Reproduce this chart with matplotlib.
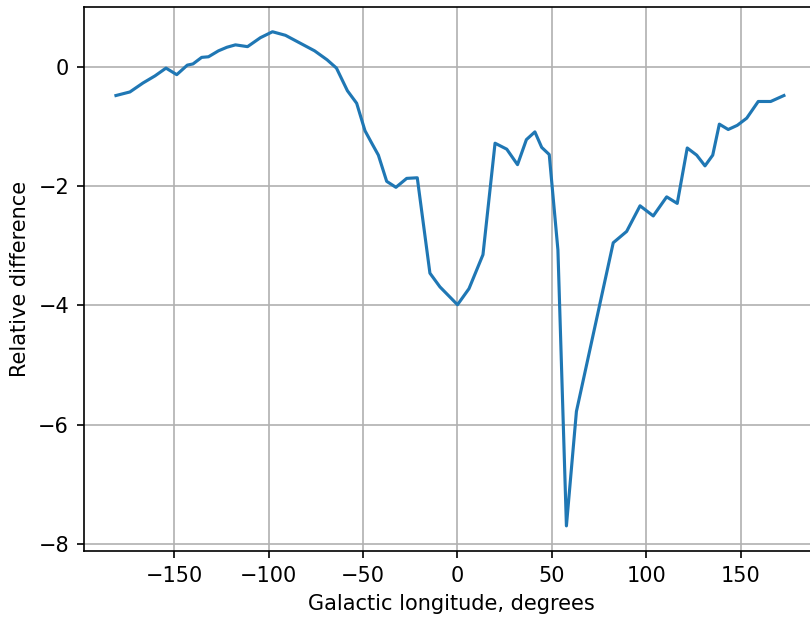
import matplotlib
matplotlib.use('Agg')
import matplotlib.pyplot as plt
import numpy as np

# galactic longitude (deg) of each sample
lon = [-180.9, -173.5, -166.6, -160.2, -154.4, -148.7, -143.1, -140.1, -135.5, -131.9,
       -126.6, -122.1, -117.6, -111.2, -104.4, -98.0, -91.1, -84.0, -75.7, -69.1,
       -64.1, -58.3, -53.4, -49.0, -45.4, -41.9, -37.5, -32.6, -26.9, -21.3,
       -14.6, -9.3, 0.0, 6.1, 13.5, 19.9, 26.1, 31.8, 36.5, 41.0,
       44.6, 48.6, 53.2, 57.7, 63.0, 82.5, 89.6, 96.7, 103.7, 110.8,
       116.4, 121.7, 126.7, 131.1, 135.2, 138.7, 143.4, 148.2, 153.2, 159.3,
       165.9, 172.9]

# relative difference at each longitude
rel_diff = [-0.48, -0.42, -0.27, -0.15, -0.02, -0.13, 0.03, 0.05, 0.16, 0.17,
            0.27, 0.33, 0.37, 0.34, 0.49, 0.59, 0.53, 0.41, 0.27, 0.12,
            -0.02, -0.40, -0.61, -1.07, -1.28, -1.48, -1.92, -2.02, -1.87, -1.86,
            -3.46, -3.69, -3.99, -3.72, -3.15, -1.28, -1.38, -1.64, -1.22, -1.09,
            -1.35, -1.47, -3.07, -7.70, -5.78, -2.95, -2.76, -2.33, -2.50, -2.18,
            -2.29, -1.36, -1.48, -1.66, -1.48, -0.96, -1.05, -0.98, -0.86, -0.58,
            -0.58, -0.48]


def plot_difference():
    fig = plt.figure(figsize=(810 / 150, 619 / 150), dpi=150)
    ax = fig.add_axes([0.1033, 0.1094, 0.909, 0.8788])
    ax.plot(np.array(lon), np.array(rel_diff))
    ax.set_xlim(-198, 192)
    ax.set_ylim(-8.126, 1.0)
    ax.set_xlabel('Galactic longitude, degrees')
    ax.set_ylabel('Relative difference')
    ax.grid(True)
    fig.savefig('out.png', dpi=150)


if __name__ == '__main__':
    plot_difference()
